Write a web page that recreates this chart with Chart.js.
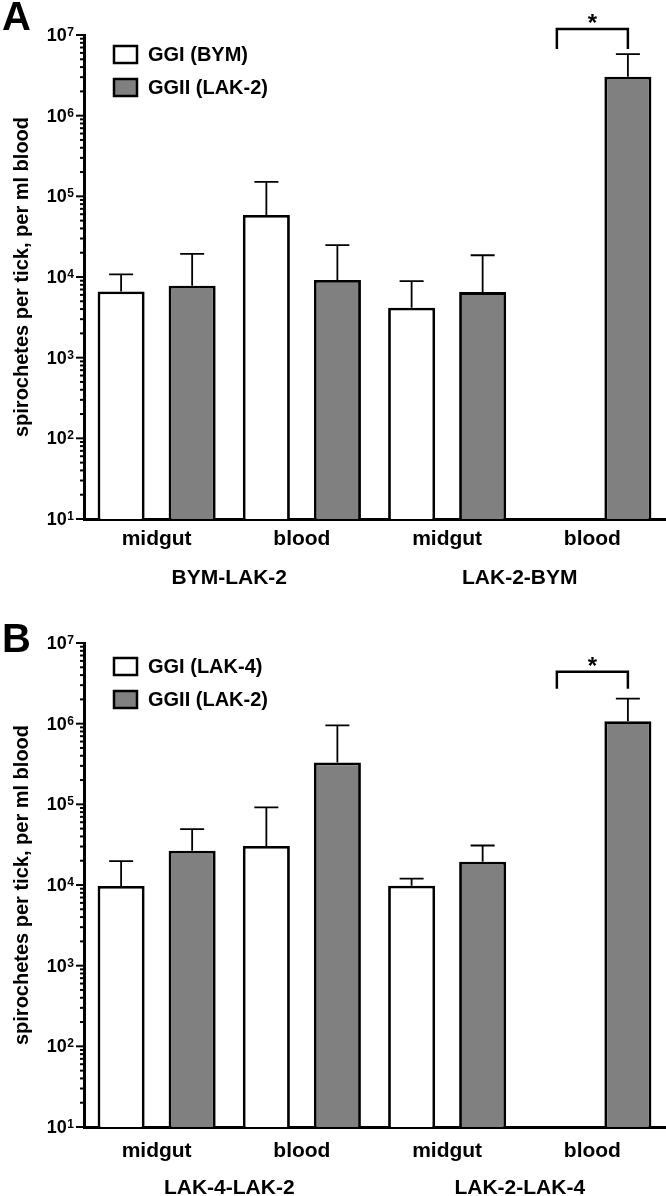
<!DOCTYPE html>
<html>
<head>
<meta charset="utf-8">
<script src="https://cdn.jsdelivr.net/npm/chart.js@4.4.0/dist/chart.umd.min.js"></script>
<style>
  body { margin: 0; background: #fff; }
  .panel { position: relative; width: 666px; }
  #wrapA { height: 608px; }
  #wrapB { height: 588px; }
</style>
</head>
<body>
<div class="panel" id="wrapA"><canvas id="chartA"></canvas></div>
<div class="panel" id="wrapB"><canvas id="chartB"></canvas></div>
<script>
let tissues = ["midgut", "blood", "midgut", "blood"]
let groupsA = ["BYM-LAK-2", "LAK-2-BYM"]
let groupsB = ["LAK-4-LAK-2", "LAK-2-LAK-4"]
let decades = [1, 2, 3, 4, 5, 6, 7]

// panel A: mean and top of error bar
let ggiA = [6600, 58600, 4150, null]
let ggiATop = [10800, 151000, 8900, null]
let ggiiA = [7800, 9200, 6500, 3040000]
let ggiiATop = [19300, 24900, 18600, 5800000]

// panel B
let ggiB = [9700, 30400, 9800, null]
let ggiBTop = [19800, 91800, 12000, null]
let ggiiB = [26600, 331000, 19400, 1070000]
let ggiiBTop = [49400, 955000, 30900, 2040000]

let FONT = "'Liberation Sans', Arial, Helvetica, sans-serif"
Chart.defaults.font.family = FONT
Chart.defaults.color = "#000"

function makeDecor(cfg) {
    return {
        id: "decor" + cfg.letter,
        afterDatasetsDraw(chart) {
            let ctx = chart.ctx
            let y = chart.scales.y
            ctx.save()
            ctx.strokeStyle = "#000"
            ctx.lineWidth = 1.8
            cfg.errors.forEach((tops, di) => {
                let meta = chart.getDatasetMeta(di)
                tops.forEach((v, j) => {
                    if (v == null) return
                    let bar = meta.data[j]
                    let yt = y.getPixelForValue(v)
                    ctx.beginPath()
                    ctx.moveTo(bar.x, bar.y)
                    ctx.lineTo(bar.x, yt)
                    ctx.moveTo(bar.x - 12, yt)
                    ctx.lineTo(bar.x + 12, yt)
                    ctx.stroke()
                })
            })
            ctx.restore()
        },
        afterDraw(chart) {
            let ctx = chart.ctx
            let y = chart.scales.y
            let x = chart.scales.x
            let area = chart.chartArea
            let left = area.left
            ctx.save()
            ctx.fillStyle = "#000"
            ctx.strokeStyle = "#000"

            // y ticks and labels
            decades.forEach((e) => {
                let py = y.getPixelForValue(Math.pow(10, e))
                ctx.lineWidth = 2
                ctx.beginPath()
                ctx.moveTo(left - 8, py)
                ctx.lineTo(left, py)
                ctx.stroke()
                if (e < decades[decades.length - 1]) {
                    for (let m = 2; m <= 9; m++) {
                        let pm = y.getPixelForValue(m * Math.pow(10, e))
                        ctx.beginPath()
                        ctx.moveTo(left - 4, pm)
                        ctx.lineTo(left, pm)
                        ctx.stroke()
                    }
                }
                ctx.textAlign = "right"
                ctx.textBaseline = "alphabetic"
                ctx.font = "bold 12px " + FONT
                let sw = ctx.measureText(String(e)).width
                ctx.fillText(String(e), left - 10, py + 1)
                ctx.font = "bold 18px " + FONT
                ctx.fillText("10", left - 10 - sw - 0.5, py + 6)
            })

            // y title
            ctx.save()
            ctx.translate(22, (area.top + area.bottom) / 2)
            ctx.rotate(-Math.PI / 2)
            ctx.textAlign = "center"
            ctx.textBaseline = "middle"
            ctx.font = "bold 20px " + FONT
            ctx.fillText("spirochetes per tick, per ml blood", 0, 0)
            ctx.restore()

            // panel letter
            ctx.textAlign = "left"
            ctx.textBaseline = "alphabetic"
            ctx.font = "bold 40px " + FONT
            ctx.fillText(cfg.letter, 2, cfg.letterY)

            // group labels
            ctx.textAlign = "center"
            ctx.font = "bold 21px " + FONT
            cfg.groups.forEach((g, i) => {
                let cx = (x.getPixelForValue(i * 2) + x.getPixelForValue(i * 2 + 1)) / 2
                ctx.fillText(g, cx, area.bottom + cfg.groupY)
            })

            // legend
            chart.data.datasets.forEach((ds, i) => {
                let by = area.top + cfg.legendY + i * 33
                ctx.fillStyle = ds.backgroundColor
                ctx.fillRect(left + 30, by, 23, 17)
                ctx.lineWidth = 2.5
                ctx.strokeRect(left + 30, by, 23, 17)
                ctx.fillStyle = "#000"
                ctx.textAlign = "left"
                ctx.textBaseline = "middle"
                ctx.font = "bold 20px " + FONT
                ctx.fillText(ds.label, left + 64, by + 9)
            })

            // significance bracket
            let b = cfg.bracket
            let m0 = chart.getDatasetMeta(0).data
            let m1 = chart.getDatasetMeta(1).data
            let dx = m1[0].x - m0[0].x
            let x2 = m1[b.cat].x
            let x1 = x2 - dx
            let yTop = y.getPixelForValue(b.top)
            let yLeg = y.getPixelForValue(b.leg)
            ctx.lineWidth = 2.5
            ctx.beginPath()
            ctx.moveTo(x1, yLeg)
            ctx.lineTo(x1, yTop)
            ctx.lineTo(x2, yTop)
            ctx.lineTo(x2, yLeg)
            ctx.stroke()
            ctx.textAlign = "center"
            ctx.textBaseline = "alphabetic"
            ctx.font = "bold 24px " + FONT
            ctx.fillText("*", (x1 + x2) / 2, yTop + 2)
            ctx.restore()
        }
    }
}

function makeChart(id, cfg) {
    let h = document.getElementById(id).parentNode.clientHeight
    return new Chart(document.getElementById(id).getContext("2d"), {
        type: "bar",
        data: {
            labels: tissues,
            datasets: [{
                label: cfg.names[0],
                data: cfg.values[0],
                backgroundColor: "#ffffff",
                borderColor: "#000000",
                borderWidth: 2.8,
                categoryPercentage: 0.978,
                barPercentage: 0.662
            }, {
                label: cfg.names[1],
                data: cfg.values[1],
                backgroundColor: "#808080",
                borderColor: "#000000",
                borderWidth: 2.8,
                categoryPercentage: 0.978,
                barPercentage: 0.662
            }]
        },
        options: {
            responsive: true,
            maintainAspectRatio: false,
            animation: false,
            layout: { padding: { top: 35, right: 1, left: 0, bottom: 0 } },
            plugins: {
                legend: { display: false },
                tooltip: { enabled: false }
            },
            scales: {
                x: {
                    grid: { display: false, drawTicks: false },
                    border: { display: true, color: "#000", width: 3 },
                    ticks: {
                        padding: cfg.tickPad,
                        font: { size: 21, weight: "bold" },
                        color: "#000",
                        maxRotation: 0
                    },
                    afterFit: (s) => { s.height = h - 519 }
                },
                y: {
                    type: "logarithmic",
                    min: 10,
                    max: 1e7,
                    grid: { display: false, drawTicks: false },
                    border: { display: true, color: "#000", width: 3 },
                    ticks: { display: false },
                    afterFit: (s) => { s.width = 84 }
                }
            }
        },
        plugins: [makeDecor(cfg)]
    })
}

let chartA = makeChart("chartA", {
    letter: "A",
    letterY: 30,
    names: ["GGI (BYM)", "GGII (LAK-2)"],
    values: [ggiA, ggiiA],
    errors: [ggiATop, ggiiATop],
    groups: groupsA,
    legendY: 11,
    tickPad: 8,
    groupY: 65,
    bracket: { cat: 3, top: 1.19e7, leg: 6.7e6 }
})

let chartB = makeChart("chartB", {
    letter: "B",
    letterY: 44,
    names: ["GGI (LAK-4)", "GGII (LAK-2)"],
    values: [ggiB, ggiiB],
    errors: [ggiBTop, ggiiBTop],
    groups: groupsB,
    legendY: 15,
    tickPad: 12,
    groupY: 67,
    bracket: { cat: 3, top: 4.4e6, leg: 2.7e6 }
})
</script>
</body>
</html>
